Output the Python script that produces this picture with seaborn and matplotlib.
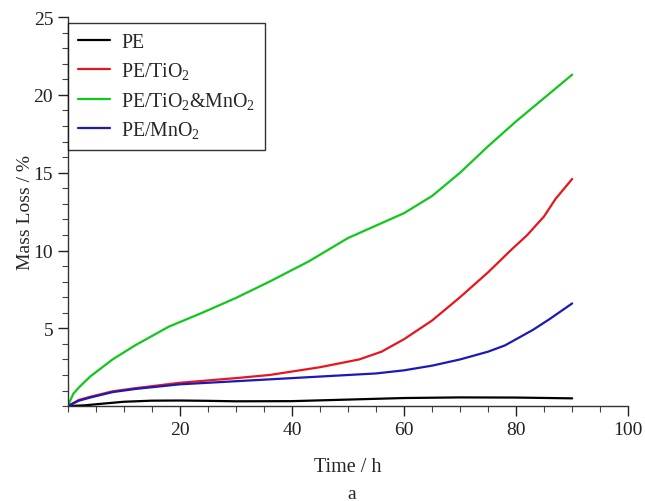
import numpy as np
import pandas as pd
import matplotlib
matplotlib.use("Agg")
import matplotlib.pyplot as plt
import seaborn as sns
from matplotlib.ticker import MultipleLocator, FixedLocator

sns.set_style("white")
plt.rcParams['font.family'] = ['Liberation Serif', 'DejaVu Serif']
plt.rcParams['mathtext.fontset'] = 'custom'
plt.rcParams['mathtext.rm'] = 'Liberation Serif'
plt.rcParams['mathtext.it'] = 'Liberation Serif:italic'

labels = ['PE', r'PE/TiO$_\mathrm{2}$', r'PE/TiO$_\mathrm{2}$&MnO$_\mathrm{2}$', r'PE/MnO$_\mathrm{2}$']
colors = ['#000000', '#e8161c', '#10c81a', '#1a1ab8']

pe_x = [0, 3, 6, 10, 15, 20, 25, 30, 40, 50, 60, 70, 80, 90]
pe_y = [0, 0.05, 0.15, 0.28, 0.35, 0.36, 0.34, 0.31, 0.32, 0.42, 0.52, 0.56, 0.55, 0.5]

ti_x = [0, 2, 4, 8, 12, 20, 30, 36, 45, 52, 56, 60, 65, 70, 75, 79, 82, 85, 87, 90]
ti_y = [0, 0.4, 0.6, 0.95, 1.15, 1.5, 1.8, 2.0, 2.5, 3.0, 3.5, 4.3, 5.5, 7.0, 8.6, 10.0, 11.0, 12.2, 13.3, 14.6]

tm_x = [0, 1, 2, 4, 8, 12, 18, 24, 30, 36, 43, 50, 55, 60, 65, 70, 75, 80, 85, 90]
tm_y = [0, 0.8, 1.2, 1.9, 3.0, 3.9, 5.1, 6.0, 6.95, 8.0, 9.3, 10.8, 11.6, 12.4, 13.5, 15.0, 16.7, 18.3, 19.8, 21.3]

mn_x = [0, 2, 4, 8, 12, 20, 30, 40, 50, 55, 60, 65, 70, 75, 78, 80, 83, 86, 90]
mn_y = [0, 0.35, 0.55, 0.9, 1.1, 1.4, 1.6, 1.8, 2.0, 2.1, 2.3, 2.6, 3.0, 3.5, 3.9, 4.3, 4.9, 5.6, 6.6]

frames = []
for lab, xs, ys in zip(labels, [pe_x, ti_x, tm_x, mn_x], [pe_y, ti_y, tm_y, mn_y]):
    frames.append(pd.DataFrame({'Time': xs, 'Loss': ys, 'Sample': lab}))
df = pd.concat(frames, ignore_index=True)

fig = plt.figure(figsize=(6.45, 5.02), dpi=100)
ax = fig.add_axes([0.105, 0.189, 0.869, 0.775])
sns.lineplot(data=df, x='Time', y='Loss', hue='Sample', hue_order=labels,
             palette=dict(zip(labels, colors)), linewidth=1.6, ax=ax,
             estimator=None, sort=True)

ax.set_xlim(0, 100)
ax.set_ylim(0, 25)
ax.xaxis.set_major_locator(FixedLocator([20, 40, 60, 80, 100]))
ax.xaxis.set_minor_locator(MultipleLocator(5))
ax.yaxis.set_major_locator(FixedLocator([5, 10, 15, 20, 25]))
ax.yaxis.set_minor_locator(MultipleLocator(1))
ax.tick_params(which='major', direction='out', length=7, width=1, labelsize=14, colors='#222222')
ax.tick_params(which='minor', direction='out', length=4, width=0.8, colors='#444444')
ax.tick_params(axis='x', which='both', bottom=True)
ax.tick_params(axis='y', which='both', left=True)
for s in ['top', 'right']:
    ax.spines[s].set_visible(False)
for s in ['left', 'bottom']:
    ax.spines[s].set_color('#333333')
    ax.spines[s].set_linewidth(1.0)

ax.set_xlabel('Time / h', fontsize=14.5, labelpad=14)
ax.set_ylabel('Mass Loss / %', fontsize=14, labelpad=0)
fig.text(0.546, 0.006, 'a', fontsize=14, ha='center')

leg = ax.legend(loc='upper left', bbox_to_anchor=(0.0, 0.985), borderaxespad=0.0,
                fontsize=14.3, frameon=True, fancybox=False, edgecolor='black',
                handlelength=1.65, borderpad=0.5, labelspacing=0.42, handletextpad=0.55)
leg.get_frame().set_linewidth(1.0)
for line in leg.get_lines():
    line.set_linewidth(1.6)

fig.savefig('out.png', dpi=100)
